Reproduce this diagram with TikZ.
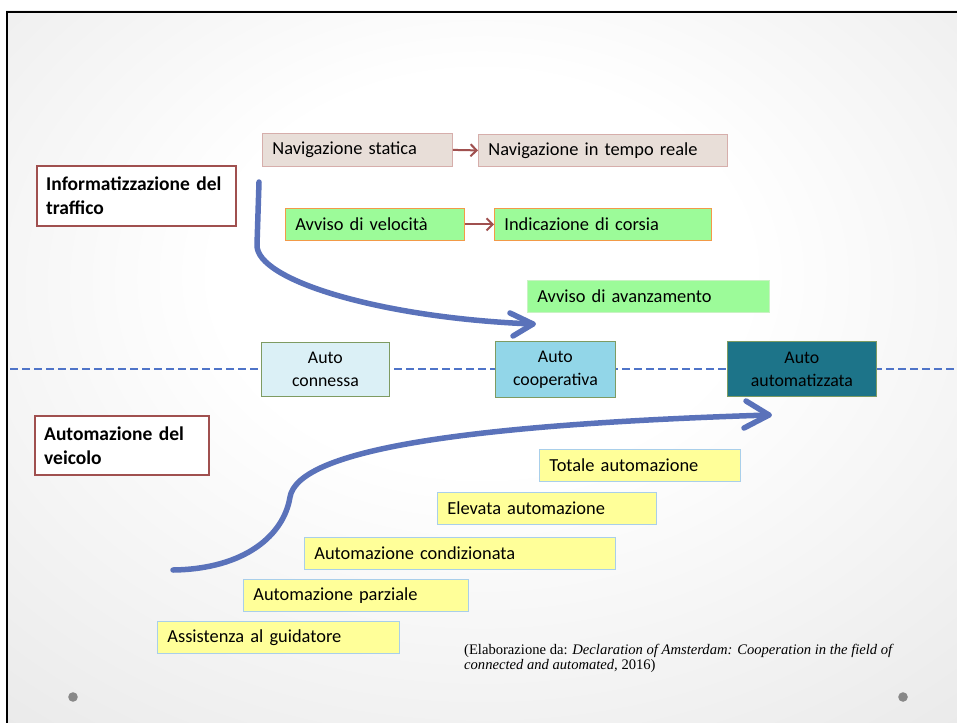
\documentclass[tikz,border=0pt]{standalone}
\usepackage{fontspec}
\setmainfont{Carlito}
\newfontfamily\citefont{Liberation Serif}
\definecolor{frameRed}{HTML}{A0504F}
\definecolor{navFill}{HTML}{E8DED8}
\definecolor{navLine}{HTML}{D6AEAB}
\definecolor{navArrow}{HTML}{A0504F}
\definecolor{greenFill}{HTML}{9CFB99}
\definecolor{orangeLine}{HTML}{F29A48}
\definecolor{lightGreenLine}{HTML}{C9F2C3}
\definecolor{connFill}{HTML}{DBF0F6}
\definecolor{coopFill}{HTML}{92D6E8}
\definecolor{autoFill}{HTML}{1D7489}
\definecolor{autoLine}{HTML}{7E9B62}
\definecolor{yellowFill}{HTML}{FFFF99}
\definecolor{yellowLine}{HTML}{A9CFEA}
\definecolor{flowBlue}{HTML}{5A72BA}
\definecolor{dashBlue}{HTML}{4F74C8}
\definecolor{dotGray}{HTML}{888888}
\pgfdeclareradialshading{bgshade}{\pgfpoint{0bp}{8bp}}{color(0bp)=(white); color(14bp)=(white); color(62bp)=(black!16); color(80bp)=(black!18)}
\tikzset{
  labelbox/.style={draw=frameRed, line width=2.4pt, fill=white, anchor=north west, inner xsep=9pt, inner ysep=0pt, align=left, font=\fontsize{19.5}{24}\selectfont\bfseries},
  itembox/.style={anchor=north west, inner xsep=10pt, inner ysep=0pt, align=left, line width=0.8pt, font=\fontsize{18.4}{20}\selectfont},
  navbox/.style={itembox, draw=navLine, fill=navFill},
  greenbox/.style={itembox, draw=orangeLine, fill=greenFill},
  yellowbox/.style={itembox, draw=yellowLine, fill=yellowFill},
  autobox/.style={anchor=north west, draw=autoLine, line width=0.8pt, inner sep=0pt, align=center, font=\fontsize{17.8}{23}\selectfont},
  smallarrow/.style={draw=navArrow, line width=2pt, -{Straight Barb[length=6pt,width=12pt]}},
  flow/.style={draw=flowBlue, line width=5.5pt, line cap=round},
  chevron/.style={draw=flowBlue, line width=5.5pt, line cap=round, line join=round}
}
\usetikzlibrary{arrows.meta}
\begin{document}
\begin{tikzpicture}[x=1pt,y=-1pt]
\useasboundingbox (0,0) rectangle (957,722);
% background
\fill[white] (0,0) rectangle (957,722);
\shade[shading=bgshade] (6,11) rectangle (957,722);
\draw[black, line width=2.2pt] (7,725) -- (7,12) -- (960,12);
% dashed line
\draw[dashBlue, line width=1.2pt, dash pattern=on 8pt off 4pt] (10,369) -- (957,369);
% top boxes
\node[labelbox, text width=181pt, minimum height=60pt] (info) at (36,165) {Informatizzazione del\\traffico};
\node[navbox, text width=170pt, minimum height=33pt] (navs) at (262,133) {Navigazione statica};
\node[navbox, text width=229pt, minimum height=32pt] (navt) at (478,134) {Navigazione in tempo reale};
\draw[smallarrow] (navs.east) -- (navt.west);
\node[greenbox, text width=159pt, minimum height=32pt] (vel) at (285,208) {Avviso di velocità};
\node[greenbox, text width=197pt, minimum height=32pt] (cors) at (494,208) {Indicazione di corsia};
\draw[smallarrow] (vel.east) -- (cors.west);
\node[itembox, draw=lightGreenLine, fill=greenFill, text width=222pt, minimum height=32pt] (avz) at (527,280) {Avviso di avanzamento};
% upper flow arrow
\coordinate (f1s) at (259,182);
\coordinate (f1e) at (533,324);
\draw[flow] (f1s) -- (257,245) .. controls (256,280) and (380,318) .. (f1e);
\draw[chevron] (510,313) -- (f1e) -- (513,336);
% auto boxes
\node[autobox, fill=connFill, minimum width=128pt, minimum height=54pt] (conn) at (261,342) {Auto\\connessa};
\node[autobox, fill=coopFill, minimum width=120pt, minimum height=56pt] (coop) at (495,341) {Auto\\cooperativa};
\node[autobox, fill=autoFill, minimum width=149pt, minimum height=55pt] (autom) at (727,341) {Auto\\automatizzata};
% lower label
\node[labelbox, text width=156pt, minimum height=59pt] (veic) at (34,415) {Automazione del\\veicolo};
% lower flow arrow
\coordinate (f2s) at (173,570);
\coordinate (f2e) at (769,415);
\draw[flow] (f2s) .. controls (245,569) and (284,535) .. (290,497) .. controls (298,452) and (450,425) .. (f2e);
\draw[chevron] (746,401) -- (f2e) -- (744,428);
% yellow boxes
\node[yellowbox, text width=181pt, minimum height=32pt] (tot) at (539,449) {Totale automazione};
\node[yellowbox, text width=199pt, minimum height=32pt] (elev) at (437,492) {Elevata automazione};
\node[yellowbox, text width=291pt, minimum height=32pt] (cond) at (304,537) {Automazione condizionata};
\node[yellowbox, text width=205pt, minimum height=32pt] (parz) at (243,579) {Automazione parziale};
\node[yellowbox, text width=222pt, minimum height=32pt] (assi) at (157,621) {Assistenza al guidatore};
% citation
\node[anchor=north west, inner sep=0pt, align=left, font=\citefont\fontsize{14.6}{15.5}\selectfont] (cite) at (464,644) {(Elaborazione da: \textit{Declaration of Amsterdam: Cooperation in the field of}\\\textit{connected and automated,} 2016)};
% dots
\fill[dotGray] (73,697) circle (4.8pt);
\fill[dotGray] (903,697) circle (4.8pt);
\end{tikzpicture}
\end{document}
